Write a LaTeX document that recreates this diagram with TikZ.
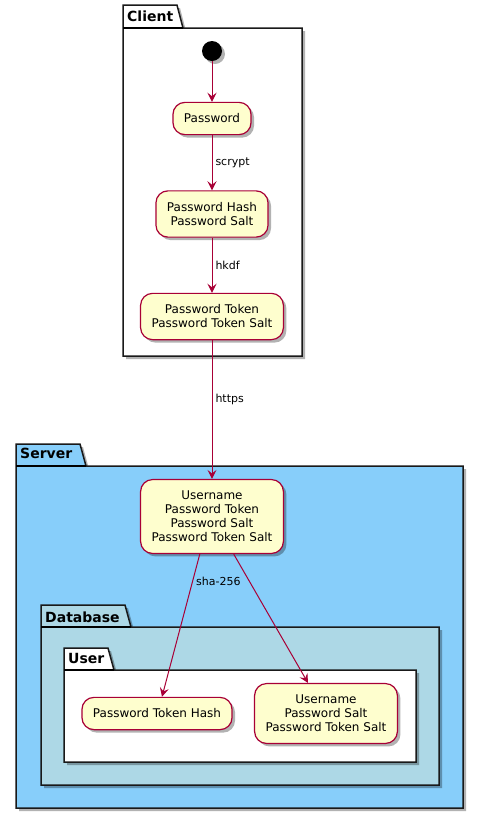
\documentclass[tikz,border=0pt]{standalone}
\usepackage{fontspec}
\setmainfont{DejaVu Sans}
\usetikzlibrary{arrows.meta,shadows}
\definecolor{stateback}{HTML}{FEFECE}
\definecolor{stateline}{HTML}{A80036}
\definecolor{serverback}{HTML}{87CEFA}
\definecolor{dbback}{HTML}{ADD8E6}
\tikzset{
  pkg/.style={draw=black!90,line width=1.5pt,line join=miter,
    drop shadow={shadow xshift=3pt,shadow yshift=-3pt,fill=black,opacity=.3}},
  pkgname/.style={anchor=base west,inner sep=0pt,font=\bfseries\fontsize{14}{16}\selectfont}
}

\begin{document}
\begin{tikzpicture}[x=1pt,y=-1pt]
\useasboundingbox (0,0) rectangle (484,820);
% packages
\path[pkg,fill=white] (123,5) -- (177,5) -- (183,28) -- (302,28) -- (302,356) -- (123,356) -- cycle;
\draw[line width=1.5pt] (123,28) -- (183,28);
\node[pkgname] (client) at (127,21) {Client};
\path[pkg,fill=serverback] (16,444) -- (80,444) -- (86,466) -- (463,466) -- (463,808) -- (16,808) -- cycle;
\draw[line width=1.5pt] (16,466) -- (86,466);
\node[pkgname] (server) at (20,458) {Server};
\path[pkg,fill=dbback] (41,605) -- (125,605) -- (131,627) -- (439,627) -- (439,785) -- (41,785) -- cycle;
\draw[line width=1.5pt] (41,627) -- (131,627);
\node[pkgname] (database) at (45,622) {Database};
\path[pkg,fill=white] (64,648) -- (108,648) -- (114,670) -- (416,670) -- (416,762) -- (64,762) -- cycle;
\draw[line width=1.5pt] (64,670) -- (114,670);
\node[pkgname] (user) at (68,663) {User};
\begin{scope}[every node/.style={rectangle,rounded corners=12pt,draw=stateline,line width=1.2pt,
    fill=stateback,align=center,inner xsep=11pt,inner ysep=11.5pt,
    font=\fontsize{12}{14}\selectfont,
    drop shadow={shadow xshift=3pt,shadow yshift=-3pt,fill=black,opacity=.3}}]
    \node (pw) at (212,118.5) {Password};
    \node (hash) at (212,214) {Password Hash\\Password Salt};
    \node (tok) at (212,316.5) {Password Token\\Password Token Salt};
    \node (srv) at (212,516.5) {Username\\Password Token\\Password Salt\\Password Token Salt};
    \node (th) at (157,713.5) {Password Token Hash};
    \node (rec) at (326,713.5) {Username\\Password Salt\\Password Token Salt};
\end{scope}
\node[circle,fill=black,inner sep=0pt,minimum size=20pt,
    drop shadow={shadow xshift=3pt,shadow yshift=-3pt,fill=black,opacity=.3}] (start) at (212,51) {};
\begin{scope}[>={Stealth[length=9pt,width=9pt,inset=3.5pt]},
              every edge/.style={draw=stateline,line width=1pt},
              every node/.style={font=\fontsize{11}{13}\selectfont,inner sep=3pt}]
    \path [->] (start) edge (pw);
    \path [->] (pw) edge node[right] {scrypt} (hash);
    \path [->] (hash) edge node[right] {hkdf} (tok);
    \path [->] (tok) edge node[right,pos=.43] {https} (srv);
    \path [->] (srv.252) edge node[right,pos=.19] {sha-256} ([xshift=5pt]th.north);
    \path [->] (srv.300) edge ([xshift=-18pt]rec.north);
\end{scope}
\end{tikzpicture}
\end{document}
